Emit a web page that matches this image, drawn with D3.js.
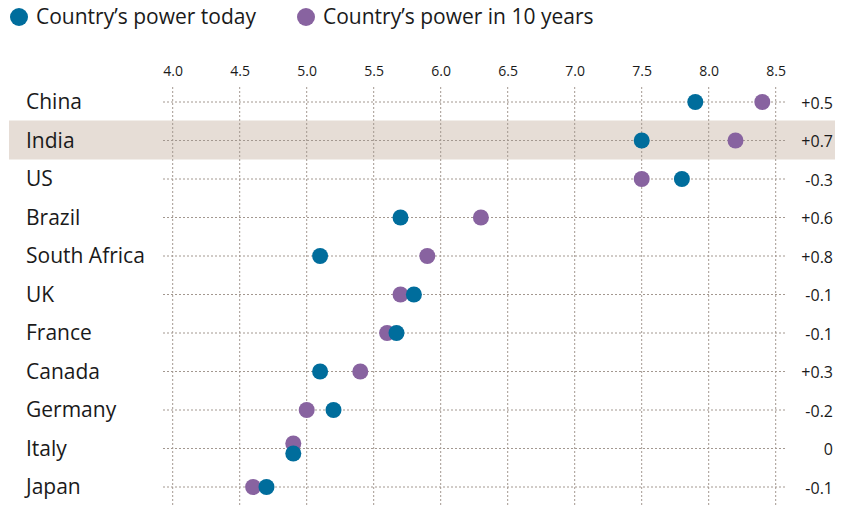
<!DOCTYPE html>
<html lang="en">
<head>
<meta charset="utf-8">
<title>Country power</title>
<script src="https://d3js.org/d3.v7.min.js"></script>
<style>
  body { margin: 0; background: #fff; }
  text { font-family: "Open Sans", "Noto Sans", sans-serif; fill: #1a1a1a; }
</style>
</head>
<body>
<script>
// data
var countries = ["China", "India", "US", "Brazil", "South Africa", "UK", "France", "Canada", "Germany", "Italy", "Japan"];
var today = [7.9, 7.5, 7.8, 5.7, 5.1, 5.8, 5.67, 5.1, 5.2, 4.9, 4.7];
var inTen = [8.4, 8.2, 7.5, 6.3, 5.9, 5.7, 5.6, 5.4, 5.0, 4.9, 4.6];
var change = ["+0.5", "+0.7", "-0.3", "+0.6", "+0.8", "-0.1", "-0.1", "+0.3", "-0.2", "0", "-0.1"];
var ticks = [4.0, 4.5, 5.0, 5.5, 6.0, 6.5, 7.0, 7.5, 8.0, 8.5];
var highlight = "India";

var w = 842, h = 507;
var blue = "#006d9c", purple = "#8863a0";

var svg = d3.select("body").append("svg").attr("width", w).attr("height", h);

var x = d3.scaleLinear().domain([4, 8.5]).range([172.7, 775.7]);
var y = d3.scalePoint().domain(countries).range([102, 487]);

// highlight band
svg.append("rect")
  .attr("x", 9).attr("width", 826)
  .attr("y", y(highlight) - 20).attr("height", 39)
  .attr("fill", "#e6ddd6");

// vertical grid
svg.append("g").selectAll("line").data(ticks).join("line")
  .attr("x1", d => x(d)).attr("x2", d => x(d))
  .attr("y1", 87).attr("y2", h)
  .attr("stroke", "#a39890").attr("stroke-width", 1)
  .attr("stroke-dasharray", "2,2");

// horizontal grid
svg.append("g").selectAll("line").data(countries).join("line")
  .attr("x1", 163).attr("x2", 785)
  .attr("y1", d => y(d)).attr("y2", d => y(d))
  .attr("stroke", "#a39890").attr("stroke-width", 1)
  .attr("stroke-dasharray", "2,2");

// top axis labels
var xAxis = d3.axisTop(x).tickValues(ticks).tickFormat(d3.format(".1f")).tickSize(0).tickPadding(0);
var ax = svg.append("g").attr("transform", "translate(0,76)").call(xAxis);
ax.select(".domain").remove();
ax.selectAll("text").style("font-size", "14px").attr("fill", "#1a1a1a")
  .style("font-family", "'Open Sans', 'Noto Sans', sans-serif");

// country labels
svg.append("g").selectAll("text").data(countries).join("text")
  .attr("x", 26).attr("y", d => y(d)).attr("dy", "0.35em")
  .style("font-size", "21px")
  .text(d => d);

// change labels
svg.append("g").selectAll("text").data(change).join("text")
  .attr("x", 833).attr("y", (d, i) => y(countries[i]) + 1).attr("dy", "0.35em")
  .attr("text-anchor", "end")
  .style("font-size", "16px")
  .text(d => d);

// dots; equal values get nudged apart vertically
var rows = countries.map((c, i) => ({c: c, t: today[i], f: inTen[i]}));
var dots = svg.append("g");
rows.forEach(function(r) {
  var same = Math.abs(r.t - r.f) < 0.05;
  dots.append("circle").attr("cx", x(r.f)).attr("cy", y(r.c) - (same ? 5 : 0))
    .attr("r", 8).attr("fill", purple);
  dots.append("circle").attr("cx", x(r.t)).attr("cy", y(r.c) + (same ? 5 : 0))
    .attr("r", 8).attr("fill", blue);
});

// legend
var legend = [{label: "Country\u2019s power today", color: blue, x: 19},
              {label: "Country\u2019s power in 10 years", color: purple, x: 306}];
var lg = svg.append("g").selectAll("g").data(legend).join("g")
  .attr("transform", d => "translate(" + d.x + ",17)");
lg.append("circle").attr("r", 9).attr("fill", d => d.color);
lg.append("text").attr("x", 17).attr("dy", "0.35em")
  .style("font-size", "21px").text(d => d.label);
</script>
</body>
</html>
